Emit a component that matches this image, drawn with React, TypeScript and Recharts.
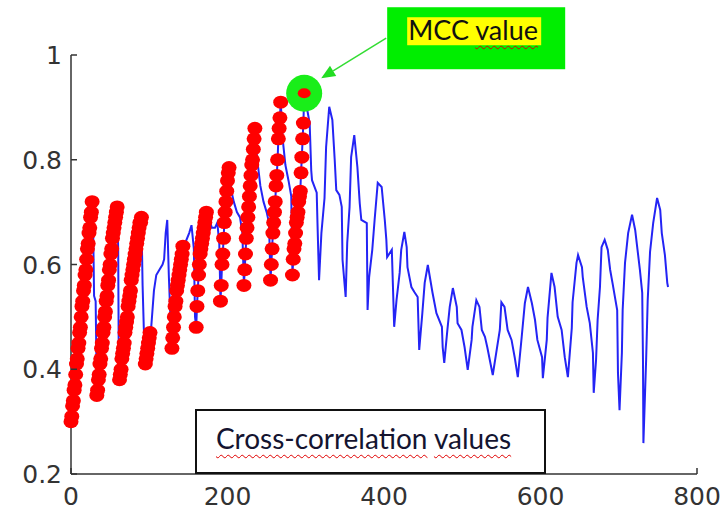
import React from 'react';
import {
  ComposedChart,
  Line,
  Scatter,
  XAxis,
  YAxis,
  ReferenceDot,
  Legend,
} from 'recharts';

const xTicks = [0, 200, 400, 600, 800];
const yTicks = [0.2, 0.4, 0.6, 0.8, 1];

// red runs: first sample of each run, then one value per sample
const runStarts = [0, 33, 62, 95, 129, 160, 191, 221, 255, 283];
const run1 = [0.3, 0.31, 0.33, 0.34, 0.36, 0.37, 0.39, 0.41, 0.42, 0.44, 0.45, 0.47, 0.48, 0.5, 0.52, 0.53, 0.55, 0.56, 0.58, 0.59, 0.61, 0.63, 0.64, 0.66, 0.67, 0.69, 0.7, 0.72];
const run2 = [0.35, 0.36, 0.38, 0.39, 0.41, 0.42, 0.44, 0.45, 0.47, 0.48, 0.5, 0.51, 0.53, 0.54, 0.56, 0.57, 0.59, 0.6, 0.62, 0.63, 0.65, 0.66, 0.67, 0.68, 0.69, 0.7, 0.71];
const run3 = [0.38, 0.39, 0.4, 0.42, 0.43, 0.44, 0.45, 0.47, 0.48, 0.49, 0.5, 0.52, 0.53, 0.54, 0.55, 0.57, 0.58, 0.59, 0.6, 0.61, 0.62, 0.63, 0.64, 0.65, 0.66, 0.67, 0.68, 0.68, 0.69];
const run4 = [0.41, 0.42, 0.43, 0.44, 0.45, 0.46, 0.47];
const run5 = [0.44, 0.46, 0.48, 0.5, 0.52, 0.53, 0.55, 0.56, 0.57, 0.58, 0.59, 0.6, 0.61, 0.62, 0.635];
const run6 = [0.48, 0.52, 0.55, 0.58, 0.6, 0.62, 0.63, 0.64, 0.65, 0.66, 0.67, 0.68, 0.69, 0.7];
const run7 = [0.53, 0.56, 0.6, 0.62, 0.65, 0.68, 0.7, 0.72, 0.74, 0.76, 0.775, 0.785];
const run8 = [0.56, 0.59, 0.62, 0.65, 0.67, 0.69, 0.71, 0.73, 0.75, 0.77, 0.79, 0.8, 0.82, 0.84, 0.86];
const run9 = [0.57, 0.6, 0.63, 0.66, 0.68, 0.7, 0.72, 0.75, 0.77, 0.8, 0.84, 0.86, 0.88, 0.91];
const run10 = [0.58, 0.61, 0.63, 0.64, 0.66, 0.68, 0.69, 0.7, 0.72, 0.73, 0.74, 0.775, 0.805, 0.84, 0.87, 0.927];
const runs = [run1, run2, run3, run4, run5, run6, run7, run8, run9, run10];

// blue trace between the red runs
const blueBetween: [number, number][] = [
  [28.5, 0.65], [29.5, 0.54], [31.5, 0.53], [32.2, 0.45],
  [60.3, 0.63], [61, 0.43],
  [91.5, 0.56], [93, 0.48], [94, 0.45],
  [102.5, 0.48], [106, 0.55], [109, 0.58], [113, 0.59], [117, 0.6], [119, 0.61], [121, 0.66], [123, 0.685], [125, 0.58], [127, 0.5],
  [147, 0.645], [151, 0.66], [154, 0.675], [157, 0.63], [158.5, 0.5],
  [176, 0.69], [180, 0.67], [184, 0.67], [187, 0.68], [189.5, 0.64],
  [205, 0.74], [208, 0.72], [212, 0.7], [216, 0.69], [219, 0.66],
  [238, 0.8], [242, 0.75], [246, 0.72], [250, 0.7], [253, 0.68],
  [270.5, 0.84], [274, 0.79], [278, 0.76], [281.5, 0.73],
];

// blue trace after the MCC point
const blueTail: [number, number][] = [
  [305, 0.87], [307, 0.78], [308, 0.761], [314, 0.737], [315, 0.679], [317, 0.57], [320, 0.66], [324, 0.727], [326, 0.824], [330, 0.901],
  [334, 0.876], [337, 0.8], [339, 0.742], [343, 0.733], [346, 0.71], [347, 0.609], [351, 0.538], [353, 0.641], [356, 0.71], [358, 0.805],
  [362, 0.847], [366, 0.786], [369, 0.717], [371, 0.685], [378, 0.679], [379, 0.513], [381, 0.576], [385, 0.628], [388, 0.685], [392, 0.756],
  [397, 0.748], [401, 0.685], [403, 0.647], [404, 0.614], [410, 0.628], [413, 0.481], [416, 0.532], [420, 0.584], [422, 0.628], [426, 0.662],
  [429, 0.633], [430, 0.595], [435, 0.557], [439, 0.547], [443, 0.538], [445, 0.437], [449, 0.507], [452, 0.565], [456, 0.599], [462, 0.546],
  [467, 0.507], [474, 0.481], [475, 0.442], [477, 0.412], [481, 0.475], [484, 0.519], [488, 0.555], [493, 0.519], [494, 0.488], [499, 0.475],
  [503, 0.442], [507, 0.399], [512, 0.456], [513, 0.481], [518, 0.532], [522, 0.519], [525, 0.475], [529, 0.462], [532, 0.442], [539, 0.389],
  [544, 0.437], [548, 0.475], [550, 0.528], [554, 0.519], [558, 0.475], [563, 0.456], [567, 0.423], [571, 0.385], [576, 0.462], [580, 0.526],
  [584, 0.557], [589, 0.526], [593, 0.494], [596, 0.456], [602, 0.423], [603, 0.383], [608, 0.456], [609, 0.498], [614, 0.584], [618, 0.557],
  [622, 0.5], [627, 0.475], [631, 0.423], [635, 0.385], [640, 0.479], [641, 0.528], [646, 0.603], [648, 0.618], [653, 0.595], [654, 0.576],
  [659, 0.519], [663, 0.488], [667, 0.431], [668, 0.355], [671, 0.418], [673, 0.494], [676, 0.557], [678, 0.633], [682, 0.647], [686, 0.628],
  [689, 0.59], [692, 0.565], [698, 0.513], [699, 0.393], [701, 0.322], [704, 0.431], [705, 0.513], [708, 0.603], [712, 0.66], [717, 0.695],
  [721, 0.666], [724, 0.628], [727, 0.59], [730, 0.546], [731, 0.412], [731.5, 0.259], [735, 0.418], [737, 0.532], [740, 0.624], [744, 0.679],
  [749, 0.727], [753, 0.704], [755, 0.66], [759, 0.618], [762, 0.565], [763, 0.557],
];

const mccPoint = { x: 298, y: 0.927 };

const redDots = runs.flatMap((vals, i) => vals.map((y, j) => ({ x: runStarts[i] + j, y })));
const blueLine = [
  ...redDots,
  ...blueBetween.map(([x, y]) => ({ x, y })),
  ...blueTail.map(([x, y]) => ({ x, y })),
].sort((a, b) => a.x - b.x);

const axisColor = '#333';
const tickFont = { fontFamily: '"DejaVu Sans", sans-serif', fontSize: 25, fill: '#333' };

function BottomTick(props: any) {
  const { x, y, payload } = props;
  return (
    <g>
      <line x1={x} y1={y} x2={x} y2={y - 6} stroke={axisColor} strokeWidth={1.5} />
      <text x={x} y={y + 31} textAnchor="middle" {...tickFont}>{payload.value}</text>
    </g>
  );
}

function LeftTick(props: any) {
  const { x, y, payload } = props;
  return (
    <g>
      <line x1={x} y1={y} x2={x + 6} y2={y} stroke={axisColor} strokeWidth={1.5} />
      <text x={x - 9} y={y + 9} textAnchor="end" {...tickFont}>{payload.value}</text>
    </g>
  );
}

function TopTick(props: any) {
  const { x, y } = props;
  return <line x1={x} y1={y} x2={x} y2={y + 6} stroke={axisColor} strokeWidth={1.5} />;
}

function RightTick(props: any) {
  const { x, y } = props;
  return <line x1={x} y1={y} x2={x - 6} y2={y} stroke={axisColor} strokeWidth={1.5} />;
}

const squiggle: React.CSSProperties = {
  textDecoration: 'underline wavy #e00000',
  textDecorationThickness: 1,
  textUnderlineOffset: 5,
};

function LegendBox() {
  return (
    <div
      style={{
        width: 351,
        height: 65,
        boxSizing: 'border-box',
        border: '2px solid #111',
        background: '#fff',
        position: 'relative',
      }}
    >
      <div
        style={{
          position: 'absolute',
          left: 19,
          top: 10,
          fontFamily: 'Lato, sans-serif',
          fontSize: 28,
          lineHeight: '34px',
          color: '#141430',
          whiteSpace: 'nowrap',
        }}
      >
        <span style={squiggle}>Cross-correlation</span> <span style={squiggle}>values</span>
      </div>
    </div>
  );
}

function MccMarker(props: any) {
  const { cx, cy } = props;
  const tip = { x: cx + 17, y: cy - 15 };
  const tail = { x: cx + 82, y: cy - 55 };
  const dx = tip.x - tail.x;
  const dy = tip.y - tail.y;
  const len = Math.hypot(dx, dy);
  const ux = dx / len;
  const uy = dy / len;
  const bx = tip.x - ux * 14;
  const by = tip.y - uy * 14;
  const head = `${tip.x},${tip.y} ${bx - uy * 6},${by + ux * 6} ${bx + uy * 6},${by - ux * 6}`;
  return (
    <g>
      <line x1={tail.x} y1={tail.y} x2={bx} y2={by} stroke="#33dd33" strokeWidth={1.5} />
      <polygon points={head} fill="#22dd22" />
      <ellipse cx={cx} cy={cy} rx={18} ry={18.5} fill="#19ee19" />
      <ellipse cx={cx} cy={cy} rx={6.5} ry={5} fill="#ff0000" />
      <rect x={cx + 83} y={cy - 86} width={178} height={62} fill="#00ee00" />
      <rect x={cx + 103} y={cy - 76} width={134} height={28} fill="#ffff00" />
      <foreignObject x={cx + 104} y={cy - 81} width={160} height={40}>
        <div
          style={{
            fontFamily: 'Lato, sans-serif',
            fontSize: 27,
            lineHeight: '36px',
            color: '#111',
            whiteSpace: 'nowrap',
          }}
        >
          MCC <span style={squiggle}>value</span>
        </div>
      </foreignObject>
    </g>
  );
}

export default function App() {
  return (
    <div style={{ position: 'absolute', left: 0, top: 0, width: 724, height: 511, background: '#fff' }}>
      <ComposedChart width={724} height={511} margin={{ top: 55, right: 27, bottom: 0, left: 0 }}>
        <XAxis
          dataKey="x"
          type="number"
          domain={[0, 800]}
          ticks={xTicks}
          height={37}
          tickSize={0}
          tickMargin={0}
          tickLine={false}
          tick={BottomTick}
          axisLine={{ stroke: axisColor, strokeWidth: 1.5 }}
        />
        <XAxis
          xAxisId="top"
          orientation="top"
          type="number"
          domain={[0, 800]}
          ticks={xTicks}
          height={0}
          tickSize={0}
          tickMargin={0}
          tickLine={false}
          tick={TopTick}
          axisLine={{ stroke: axisColor, strokeWidth: 1.5 }}
        />
        <YAxis
          type="number"
          domain={[0.2, 1]}
          ticks={yTicks}
          width={71}
          tickSize={0}
          tickMargin={0}
          tickLine={false}
          tick={LeftTick}
          axisLine={{ stroke: axisColor, strokeWidth: 1.5 }}
        />
        <YAxis
          yAxisId="right"
          orientation="right"
          type="number"
          domain={[0.2, 1]}
          ticks={yTicks}
          width={0}
          tickSize={0}
          tickMargin={0}
          tickLine={false}
          tick={RightTick}
          axisLine={{ stroke: axisColor, strokeWidth: 1.5 }}
        />
        <Line
          data={blueLine}
          dataKey="y"
          type="linear"
          stroke="#2424f5"
          strokeWidth={2}
          dot={false}
          isAnimationActive={false}
        />
        <Scatter
          data={redDots}
          dataKey="y"
          fill="#ff0000"
          isAnimationActive={false}
          shape={(p: any) => <ellipse cx={p.cx} cy={p.cy} rx={7.5} ry={6.5} fill="#ff0000" />}
        />
        <ReferenceDot x={mccPoint.x} y={mccPoint.y} shape={MccMarker} />
        <Legend
          layout="horizontal"
          verticalAlign="middle"
          align="center"
          content={() => <LegendBox />}
          wrapperStyle={{ left: 195, top: 409, width: 351, height: 65 }}
        />
      </ComposedChart>
    </div>
  );
}
